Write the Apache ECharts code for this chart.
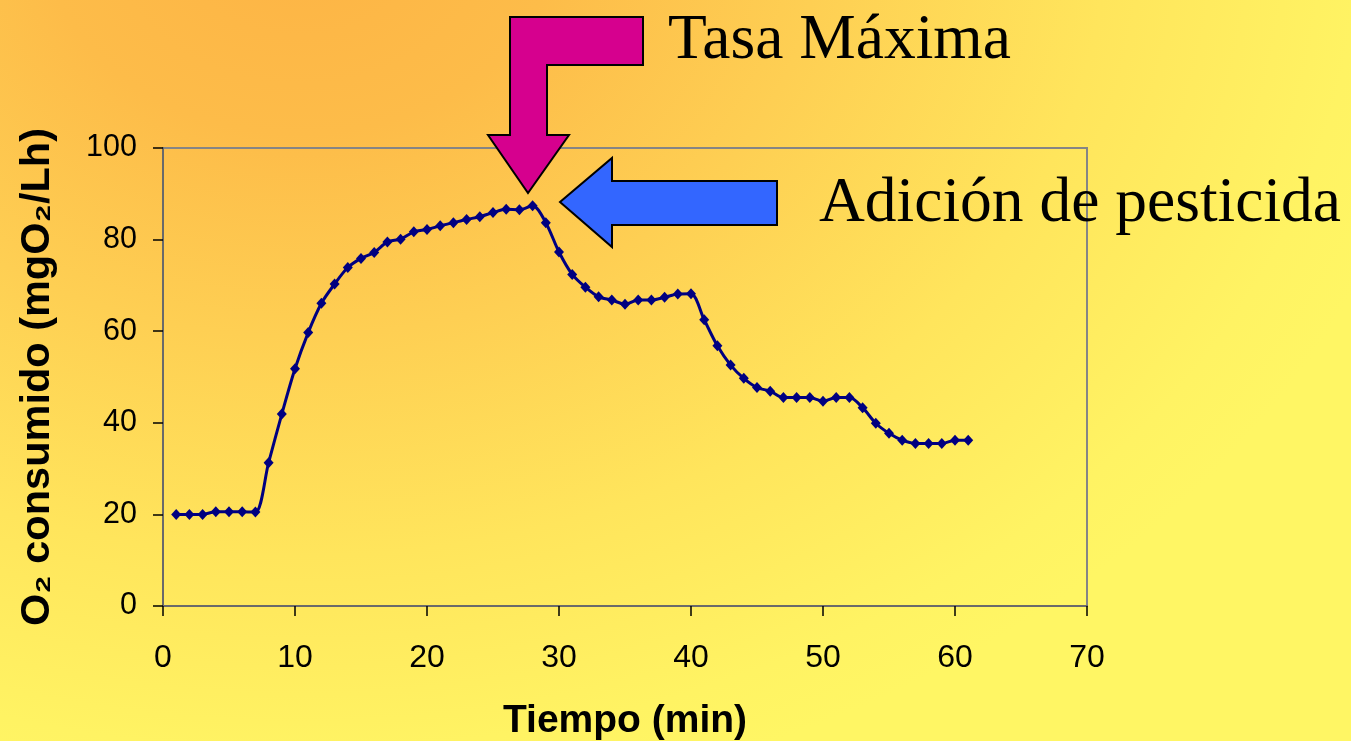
<!DOCTYPE html>
<html>
<head>
<meta charset="utf-8">
<script src="https://cdn.jsdelivr.net/npm/echarts@6/dist/echarts.min.js"></script>
<style>
  html, body { margin: 0; padding: 0; width: 100%; height: 100%; overflow: hidden; }
  body {
    background: radial-gradient(ellipse 1150px 880px at 300px -60px,
      #FDB445 0%, #FDBC49 22%, #FECF53 45%, #FFE55C 70%, #FFF363 92%, #FFF664 100%);
  }
  #chart { width: 1351px; height: 741px; }
</style>
</head>
<body>
<div id="chart"></div>
<script>
// Sampling times (min)
const minutes = [
  1, 2, 3, 4, 5, 6, 7, 8, 9, 10,
  11, 12, 13, 14, 15, 16, 17, 18, 19, 20,
  21, 22, 23, 24, 25, 26, 27, 28, 29, 30,
  31, 32, 33, 34, 35, 36, 37, 38, 39, 40,
  41, 42, 43, 44, 45, 46, 47, 48, 49, 50,
  51, 52, 53, 54, 55, 56, 57, 58, 59, 60,
  61
];

// Oxygen consumed (mgO2/Lh)
const o2Consumed = [
  20.0, 20.0, 20.0, 20.6, 20.6, 20.6, 20.5, 31.3, 41.9, 51.8,
  59.7, 66.1, 70.3, 73.9, 75.9, 77.2, 79.5, 80.1, 81.7, 82.2,
  83.0, 83.7, 84.4, 85.0, 85.9, 86.6, 86.5, 87.4, 83.7, 77.3,
  72.4, 69.6, 67.5, 66.8, 65.9, 66.8, 66.8, 67.4, 68.1, 68.2,
  62.5, 56.8, 52.6, 49.7, 47.7, 46.9, 45.5, 45.5, 45.5, 44.7,
  45.5, 45.5, 43.3, 39.9, 37.7, 36.2, 35.5, 35.5, 35.5, 36.2,
  36.2
];

const xAxisTitle = 'Tiempo (min)';
const yAxisTitle = 'O\u2082 consumido (mgO\u2082/Lh)';
const peakLabel = 'Tasa Máxima';
const additionLabel = 'Adición de pesticida';

const chart = echarts.init(document.getElementById('chart'), null, { renderer: 'canvas' });

const sansFont = '"Liberation Sans", Arial, sans-serif';
const serifFont = '"Liberation Serif", "Times New Roman", serif';

const option = {
  backgroundColor: 'transparent',
  animation: false,
  grid: {
    left: 163, top: 148, right: 264, bottom: 135,
    outerBoundsMode: 'none',
    containLabel: false,
    show: true,
    borderColor: '#858585',
    borderWidth: 2,
    backgroundColor: 'transparent'
  },
  xAxis: {
    type: 'value',
    min: 0, max: 70, interval: 10,
    name: xAxisTitle,
    nameLocation: 'middle',
    nameGap: 96,
    nameTextStyle: { fontFamily: sansFont, fontWeight: 'bold', fontSize: 39, color: '#000' },
    axisLine: { show: true, onZero: false, lineStyle: { color: '#6a6a6a', width: 2 } },
    axisTick: { show: true, inside: false, length: 10, lineStyle: { color: '#000', width: 1.5 } },
    axisLabel: { fontFamily: sansFont, fontSize: 32, color: '#000', margin: 36 },
    splitLine: { show: false }
  },
  yAxis: {
    type: 'value',
    min: 0, max: 100, interval: 20,
    name: yAxisTitle,
    nameLocation: 'middle',
    nameGap: 104,
    nameRotate: 90,
    nameTextStyle: { fontFamily: sansFont, fontWeight: 'bold', fontSize: 41.5, color: '#000' },
    axisLine: { show: true, lineStyle: { color: '#6a6a6a', width: 2 } },
    axisTick: { show: true, inside: false, length: 10, lineStyle: { color: '#000', width: 1.5 } },
    axisLabel: { fontFamily: sansFont, fontSize: 30.5, color: '#000', margin: 26 },
    splitLine: { show: false }
  },
  series: [{
    type: 'line',
    data: minutes.map((t, i) => [t, o2Consumed[i]]),
    smooth: 0.3,
    symbol: 'diamond',
    symbolSize: [10, 11],
    showAllSymbol: true,
    lineStyle: { color: '#000080', width: 3 },
    itemStyle: { color: '#000080', borderWidth: 0 },
    z: 3
  }],
  graphic: [
    // Bent magenta arrow pointing down at the peak
    {
      type: 'polygon',
      z: 10,
      shape: {
        points: [
          [510, 17], [643, 17], [643, 65], [547, 65], [547, 135],
          [569, 135], [528, 193], [488, 135], [510, 135]
        ]
      },
      style: { fill: '#D6008E', stroke: '#000', lineWidth: 2, lineJoin: 'miter' }
    },
    // Blue arrow pointing left at the addition time
    {
      type: 'polygon',
      z: 10,
      shape: {
        points: [
          [560, 202], [612, 158], [612, 181], [777, 181],
          [777, 225], [612, 225], [612, 247]
        ]
      },
      style: { fill: '#3366FF', stroke: '#000', lineWidth: 2, lineJoin: 'miter' }
    },
    {
      type: 'text',
      z: 10,
      x: 668, y: 41,
      style: {
        text: peakLabel,
        font: '63.5px ' + serifFont,
        fill: '#000',
        textAlign: 'left',
        textVerticalAlign: 'middle'
      }
    },
    {
      type: 'text',
      z: 1,
      x: 819, y: 204,
      style: {
        text: additionLabel,
        font: '63.5px ' + serifFont,
        fill: '#000',
        textAlign: 'left',
        textVerticalAlign: 'middle'
      }
    }
  ]
};

chart.setOption(option);
</script>
</body>
</html>
